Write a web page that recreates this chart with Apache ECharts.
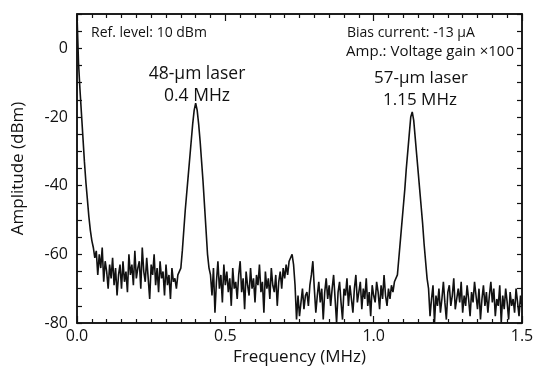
<!DOCTYPE html>
<html>
<head>
<meta charset="utf-8">
<script src="https://cdn.jsdelivr.net/npm/echarts@6/dist/echarts.min.js"></script>
<style>
  html, body { margin: 0; padding: 0; background: #fff; }
  #chart { width: 538px; height: 372px; }
</style>
</head>
<body>
<div id="chart"></div>
<script>
// spectrum analyzer sweep, one sample every 0.005 MHz
const sampleStep = 0.005;

// segment start frequencies (MHz)
const segmentStarts = [0.0, 0.06, 0.345, 0.45, 0.755, 1.075, 1.185];

// amplitude readings (dBm), segment by segment
const dcDecay = [10, -4, -12, -19, -26, -33, -39, -44, -49, -53, -56, -58];
const noiseLow = [
  -61, -59, -66, -60, -64, -58, -68, -62, -65, -70,
  -63, -67, -61, -69, -64, -72, -66, -63, -70, -62,
  -68, -65, -71, -60, -66, -63, -69, -59, -67, -64,
  -62, -70, -58, -65, -68, -61, -67, -73, -63, -66,
  -60, -69, -64, -71, -62, -67, -65, -72, -63, -69,
  -66, -73, -64, -68, -67, -70, -66
];
const peak48 = [
  -66, -64, -59, -53, -47, -42, -37, -32, -27, -22, -18,
  -16, -18, -22, -27, -33, -39, -46, -53, -60, -64
];
const noiseMid = [
  -66, -72, -64, -77, -68, -62, -70, -66, -74, -63,
  -69, -65, -71, -67, -75, -64, -70, -68, -73, -66,
  -62, -71, -67, -76, -65, -69, -72, -64, -70, -67,
  -74, -66, -69, -63, -71, -68, -77, -65, -70, -67,
  -73, -64, -69, -71, -66, -75, -68, -65, -70, -64,
  -67, -63, -66, -62, -61, -60, -63, -69, -79, -72,
  -78
];
const noiseHigh = [
  -74, -70, -76, -72, -71, -75, -69, -66, -62, -70,
  -77, -72, -68, -74, -70, -79, -71, -67, -73, -69,
  -75, -70, -66, -73, -80, -71, -68, -74, -79, -70,
  -72, -67, -75, -69, -73, -77, -70, -66, -74, -71,
  -68, -76, -70, -73, -67, -75, -71, -78, -69, -72,
  -74, -68, -71, -76, -69, -73, -66, -72, -75, -70,
  -73, -69, -71, -68
];
const peak57 = [
  -68, -66, -61, -56, -51, -46, -41, -35, -30, -25, -20,
  -18.5, -21, -26, -31, -36, -41, -46, -51, -57, -62, -67
];
const noiseTail = [
  -70, -78, -73, -69, -80, -72, -75, -70, -77, -73,
  -68, -74, -79, -71, -69, -75, -72, -67, -76, -73,
  -70, -74, -68, -77, -72, -75, -69, -73, -78, -71,
  -74, -68, -72, -76, -70, -79, -73, -69, -75, -71,
  -77, -72, -68, -74, -70, -78, -73, -75, -69, -80,
  -72, -76, -70, -74, -79, -71, -75, -73, -77, -70,
  -74, -78, -72, -75
];

const segments = [dcDecay, noiseLow, peak48, noiseMid, noiseHigh, peak57, noiseTail];

const xTickLabels = ['0.0', '0.5', '1.0', '1.5'];
const yTickLabels = ['0', '-20', '-40', '-60', '-80'];

const spectrum = [];
segments.forEach((seg, s) => {
  seg.forEach((v, i) => {
    spectrum.push([+(segmentStarts[s] + i * sampleStep).toFixed(3), v]);
  });
});

const font = '"Open Sans", "Noto Sans", sans-serif';
const ink = '#111';

const chart = echarts.init(document.getElementById('chart'), null, { renderer: 'canvas' });

const tickStyle = { color: ink, width: 1.2 };

const option = {
  animation: false,
  grid: {
    left: 77, right: 16, top: 14, bottom: 49,
    show: true, borderColor: ink, borderWidth: 1.5, backgroundColor: '#fff'
  },
  xAxis: [
    {
      type: 'value', min: 0, max: 1.5, interval: 0.5,
      name: 'Frequency (MHz)', nameLocation: 'middle', nameGap: 21,
      nameTextStyle: { fontFamily: font, fontSize: 17, color: ink },
      axisLine: { show: true, onZero: false, lineStyle: { color: ink, width: 1.5 } },
      axisTick: { show: true, inside: true, length: 7, lineStyle: tickStyle },
      minorTick: { show: true, splitNumber: 10, length: 4, lineStyle: tickStyle },
      splitLine: { show: false },
      axisLabel: {
        fontFamily: font, fontSize: 16, color: ink, margin: 5,
        formatter: v => {
          const k = Math.round(v / 0.5);
          return xTickLabels[k] !== undefined ? xTickLabels[k] : '';
        }
      }
    },
    {
      type: 'value', position: 'top', min: 0, max: 1.5, interval: 0.5,
      axisLine: { show: true, onZero: false, lineStyle: { color: ink, width: 1.5 } },
      axisTick: { show: true, inside: true, length: 7, lineStyle: tickStyle },
      minorTick: { show: true, splitNumber: 10, length: 4, lineStyle: tickStyle },
      splitLine: { show: false },
      axisLabel: { show: false }
    }
  ],
  yAxis: [
    {
      type: 'value', min: -80, max: 10, interval: 5,
      name: 'Amplitude (dBm)', nameLocation: 'middle', nameGap: 50, nameRotate: 90,
      nameTextStyle: { fontFamily: font, fontSize: 17, color: ink },
      axisLine: { show: true, onZero: false, lineStyle: { color: ink, width: 1.5 } },
      axisTick: { show: true, inside: true, length: 5, lineStyle: tickStyle },
      splitLine: { show: false },
      axisLabel: {
        fontFamily: font, fontSize: 16, color: ink, margin: 9,
        formatter: v => {
          const k = Math.round(-v / 20);
          return (v % 20 === 0 && yTickLabels[k] !== undefined) ? yTickLabels[k] : '';
        }
      }
    },
    {
      type: 'value', position: 'right', min: -80, max: 10, interval: 5,
      axisLine: { show: true, onZero: false, lineStyle: { color: ink, width: 1.5 } },
      axisTick: { show: true, inside: true, length: 5, lineStyle: tickStyle },
      splitLine: { show: false },
      axisLabel: { show: false }
    }
  ],
  series: [
    {
      type: 'line',
      data: spectrum,
      showSymbol: false,
      clip: true,
      lineStyle: { color: ink, width: 1.6 }
    }
  ],
  graphic: [
    { type: 'text', x: 91, y: 33, style: { text: 'Ref. level: 10 dBm', fontFamily: font, fontSize: 14, fill: ink, verticalAlign: 'middle' } },
    { type: 'text', x: 347, y: 33, style: { text: 'Bias current: -13 µA', fontFamily: font, fontSize: 14, fill: ink, verticalAlign: 'middle' } },
    { type: 'text', x: 514, y: 52, style: { text: 'Amp.: Voltage gain ×100', fontFamily: font, fontSize: 15, fill: ink, align: 'right', verticalAlign: 'middle' } },
    { type: 'text', x: 197, y: 74, style: { text: '48-µm laser', fontFamily: font, fontSize: 17.5, fill: ink, align: 'center', verticalAlign: 'middle' } },
    { type: 'text', x: 197, y: 96, style: { text: '0.4 MHz', fontFamily: font, fontSize: 17.5, fill: ink, align: 'center', verticalAlign: 'middle' } },
    { type: 'text', x: 421, y: 78, style: { text: '57-µm laser', fontFamily: font, fontSize: 17, fill: ink, align: 'center', verticalAlign: 'middle' } },
    { type: 'text', x: 420, y: 100, style: { text: '1.15 MHz', fontFamily: font, fontSize: 17, fill: ink, align: 'center', verticalAlign: 'middle' } }
  ]
};

chart.setOption(option);
</script>
</body>
</html>
